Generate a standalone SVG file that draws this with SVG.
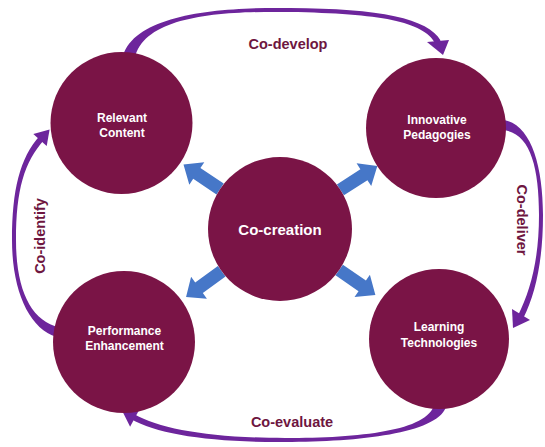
<svg xmlns="http://www.w3.org/2000/svg" xmlns:xlink="http://www.w3.org/1999/xlink" width="545" height="447" viewBox="0 0 545 447">
  <style>
    .node { fill: #7a1446; }
    .ntxt { font-family: "Liberation Sans", Arial, sans-serif; font-weight: bold; font-size: 12px; fill: #ffffff; text-anchor: middle; }
    .ctr { font-size: 15px; }
    .lbl { font-family: "Liberation Sans", Arial, sans-serif; font-weight: bold; font-size: 14.5px; fill: #6e1640; text-anchor: middle; }
    .arc { fill: #6d259c; }
    .blk { fill: #4677c8; }
  </style>
  <defs>
    <path id="blk" d="M0,-6.5 L28,-6.5 L28,-13.5 L44,0 L28,13.5 L28,6.5 L0,6.5 Z"/>
  </defs>
  <rect width="545" height="447" fill="#ffffff"/>
  <g id="connectors">
    <!-- Co-develop: Relevant Content -> Innovative Pedagogies -->
    <path class="arc" d="M123.2,55.5 C136,14 220,7 290,8 C380,8.5 428.6,18.6 440.6,40.6 L435.4,43.4 C423.4,21.4 380,13.5 290,12 C220,11 144,16 134.8,58.5 Z"/>
    <polygon class="arc" points="427,42 449,40 443,55"/>
    <!-- Co-deliver: Innovative Pedagogies -> Learning Technologies -->
    <path class="arc" d="M503.7,120 C530.5,124 543,165 543,215 C543,260 535.7,293.3 523.4,318 L518,315.4 C530.3,290.7 539,260 539,215 C539,165 529.5,132 502.3,130 Z"/>
    <polygon class="arc" points="530,320 512,309 513,328"/>
    <!-- Co-evaluate: Learning Technologies -> Performance Enhancement -->
    <path class="arc" d="M445.7,407.8 C435.8,433.2 360,442 285,442 C210,442.5 158.5,434.6 130.9,419.1 L133.9,413.9 C161.5,429.4 210,437.5 285,438 C360,438 428.2,430.8 434.3,404.2 Z"/>
    <polygon class="arc" points="139.9,408.5 122.5,411.5 130.1,426.7"/>
    <!-- Co-identify: Performance Enhancement -> Relevant Content -->
    <path class="arc" d="M56.6,336.8 C28.9,328.9 12,290 12,240 C12,190 19.8,158 39.8,135.8 L44.2,139.8 C24.2,162 16,190 16,240 C16,290 31.1,321.1 59.3,327.2 Z"/>
    <polygon class="arc" points="33.3,134 49.6,129.4 46.7,146"/>
    <!-- Blue block arrows from Co-creation -->
    <use xlink:href="#blk" class="blk" transform="translate(220.1,189) rotate(-146.3)"/>
    <use xlink:href="#blk" class="blk" transform="translate(340.4,189.9) rotate(-32.9)"/>
    <use xlink:href="#blk" class="blk" transform="translate(221.7,271.3) rotate(144.1)"/>
    <use xlink:href="#blk" class="blk" transform="translate(339.2,270) rotate(34.7)"/>
  </g>
  <g id="node-relevant">
    <circle class="node" cx="121.5" cy="123" r="71"/>
    <text class="ntxt" x="122" y="122">Relevant</text>
    <text class="ntxt" x="122" y="137">Content</text>
  </g>
  <g id="node-innovative">
    <circle class="node" cx="436" cy="128" r="70"/>
    <text class="ntxt" x="437" y="124">Innovative</text>
    <text class="ntxt" x="437" y="139">Pedagogies</text>
  </g>
  <g id="node-cocreation">
    <circle class="node" cx="280" cy="229" r="72"/>
    <text class="ntxt ctr" x="280" y="235">Co-creation</text>
  </g>
  <g id="node-performance">
    <circle class="node" cx="124" cy="342" r="71"/>
    <text class="ntxt" x="124.5" y="335">Performance</text>
    <text class="ntxt" x="124.5" y="350">Enhancement</text>
  </g>
  <g id="node-learning">
    <circle class="node" cx="439" cy="339" r="70"/>
    <text class="ntxt" x="439" y="331">Learning</text>
    <text class="ntxt" x="439" y="347">Technologies</text>
  </g>
  <g id="labels">
    <text class="lbl" x="288" y="49">Co-develop</text>
    <text class="lbl" x="292" y="427">Co-evaluate</text>
    <text class="lbl" x="44.5" y="236" transform="rotate(-90 44.5 236)">Co-identify</text>
    <text class="lbl" x="517" y="220" transform="rotate(90 517 220)">Co-deliver</text>
  </g>
</svg>
